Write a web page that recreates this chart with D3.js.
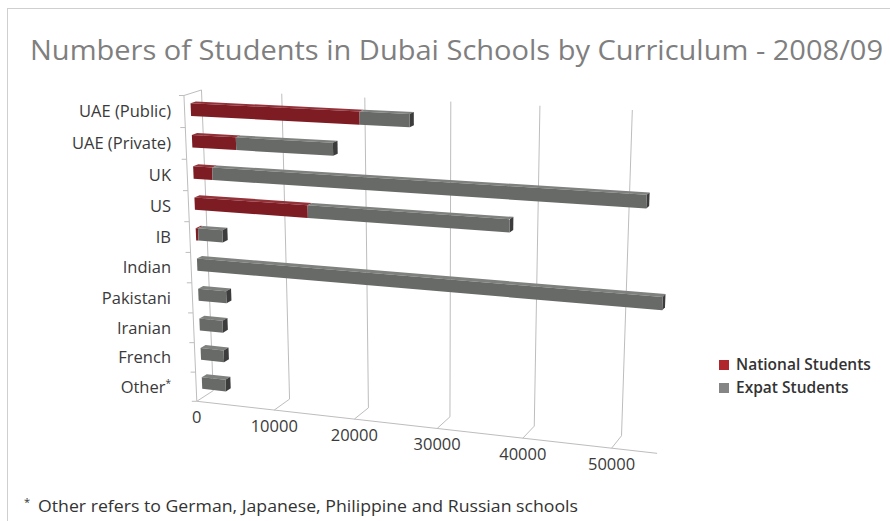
<!DOCTYPE html>
<html><head><meta charset="utf-8">
<script src="https://cdn.jsdelivr.net/npm/d3@7"></script>
<style>body{margin:0;background:#fff}svg{display:block}</style>
</head><body><svg id="c" width="890" height="521"></svg>
<script>
const title = "Numbers of Students in Dubai Schools by Curriculum - 2008/09";
const categories = ["UAE (Public)","UAE (Private)","UK","US","IB","Indian","Pakistani","Iranian","French","Other"];
const nationalStudents = [20500, 5500, 2400, 14100, 300, 0, 0, 0, 0, 0];
const expatStudents    = [5800, 11800, 50100, 23600, 3100, 54600, 3600, 3000, 3000, 3100];
const valueTicks = [0, 10000, 20000, 30000, 40000, 50000];
const axisMax = 55000;
const seriesNames = ["National Students", "Expat Students"];
const footnote = "Other refers to German, Japanese, Philippine and Russian schools";

// camera calibration of the 3D frame: [value, height(0 floor..1 top), depth(0 front..1 back), screenX, screenY]
const frameCalibration = [
 [0,0,0,197,402],[10000,0,0,275,410],[20000,0,0,355,419],[30000,0,0,437,429],[40000,0,0,523,439],[50000,0,0,611,448],[55000,0,0,657,452],
 [0,1,0,183,95],
 [0,0,1,213,389],[10000,0,1,287,398],[20000,0,1,370,408],[30000,0,1,450,418],[40000,0,1,535,427],[50000,0,1,621,436],
 [0,1,1,202,90],[10000,1,1,282,95],[20000,1,1,365,98],[30000,1,1,451,102],[40000,1,1,540,105],[50000,1,1,632,109]
];

const svg = d3.select("#c");
const xScale = d3.scaleLinear().domain([0, axisMax]).range([0, 1]);
const band = d3.scaleBand().domain(categories).range([0, 1]).paddingInner(0.6).paddingOuter(0.3);

function solveDLT(pts){
  const A=[], b=[];
  pts.forEach(([v,h,z,x,y])=>{ const X=xScale(v), Y=h, Z=z;
    A.push([X,Y,Z,1,0,0,0,0,-x*X,-x*Y,-x*Z]); b.push(x);
    A.push([0,0,0,0,X,Y,Z,1,-y*X,-y*Y,-y*Z]); b.push(y); });
  const n=11; const M=[...Array(n)].map(()=>new Array(n+1).fill(0));
  for(let r=0;r<A.length;r++) for(let i=0;i<n;i++){ for(let j=0;j<n;j++) M[i][j]+=A[r][i]*A[r][j]; M[i][n]+=A[r][i]*b[r]; }
  for(let i=0;i<n;i++){
    let p=i; for(let k=i+1;k<n;k++) if(Math.abs(M[k][i])>Math.abs(M[p][i])) p=k;
    [M[i],M[p]]=[M[p],M[i]];
    for(let k=0;k<n;k++){ if(k===i) continue; const f=M[k][i]/M[i][i]; for(let j=i;j<=n;j++) M[k][j]-=f*M[i][j]; }
  }
  return M.map((row,i)=>row[n]/row[i]);
}
const cam = solveDLT(frameCalibration);
function P(v,h,z){
  const X=xScale(v), Y=h, Z=z;
  const d = cam[8]*X + cam[9]*Y + cam[10]*Z + 1;
  return [(cam[0]*X+cam[1]*Y+cam[2]*Z+cam[3])/d, (cam[4]*X+cam[5]*Y+cam[6]*Z+cam[7])/d];
}
const line = d3.line();

// outer border
svg.append("rect").attr("x",7.5).attr("y",8.5).attr("width",900).attr("height",600)
  .attr("fill","none").attr("stroke","#cfcfcf");

// title
svg.append("text").attr("x",30).attr("y",60).text(title)
  .attr("font-family","'Open Sans', sans-serif").attr("font-size",27).attr("fill","#7f7f7f")
  .attr("textLength",853).attr("lengthAdjust","spacingAndGlyphs");

const frame = svg.append("g").attr("fill","none").attr("stroke","#bdbdbd").attr("stroke-width",1);
frame.append("path").attr("d", line([P(0,1,0),P(0,0,0),P(axisMax,0,0)]));
frame.append("path").attr("d", line([P(0,0,0),P(0,0,1),P(0,1,1),P(0,1,0)]));
valueTicks.filter(v=>v>0).forEach(v=>{
  frame.append("path").attr("d", line([P(v,0,0),P(v,0,1),P(v,1,1)]));
});
d3.range(categories.length+1).forEach(k=>{
  const h = 1 - k/categories.length; const p = P(0,h,0);
  frame.append("path").attr("d", line([[p[0]-5,p[1]],p]));
});

// bars
const z0 = 0.35, z1 = 0.65;
const styles = [
  {front:"#7d1c23", top:"#943239", cap:"#571418"},
  {front:"#676a67", top:"#7e817e", cap:"#3b3c3b"}
];
const bars = svg.append("g");
categories.forEach((c,i)=>{
  const h1 = 1 - band(c), h0 = h1 - band.bandwidth();
  const segs = [[0, nationalStudents[i], 0],[nationalStudents[i], nationalStudents[i]+expatStudents[i], 1]].filter(s=>s[1]>s[0]);
  segs.forEach((s,si)=>{
    const [a,b,k] = s; const st = styles[k];
    const g = bars.append("g");
    g.append("path").attr("d", line([P(a,h1,z0),P(b,h1,z0),P(b,h1,z1),P(a,h1,z1)])+"Z").attr("fill",st.top);
    if(si===segs.length-1)
      g.append("path").attr("d", line([P(b,h0,z0),P(b,h0,z1),P(b,h1,z1),P(b,h1,z0)])+"Z").attr("fill",st.cap);
    g.append("path").attr("d", line([P(a,h0,z0),P(b,h0,z0),P(b,h1,z0),P(a,h1,z0)])+"Z").attr("fill",st.front);
  });
});

// category labels
const lab = svg.append("g").attr("font-family","'Open Sans', sans-serif").attr("font-size",16.5).attr("fill","#3a3a3a");
categories.forEach((c,i)=>{
  const hc = 1 - band(c) - band.bandwidth()/2; const p = P(0,hc,0);
  const t = lab.append("text").attr("x",171).attr("y",p[1]).attr("dy","0.35em").attr("text-anchor","end").text(c);
  if(c==="Other") t.append("tspan").attr("font-size",10).attr("dy","-0.6em").text("*");
});
// value labels
const vlab = svg.append("g").attr("font-family","'Open Sans', sans-serif").attr("font-size",16.5).attr("fill","#3a3a3a");
valueTicks.forEach(v=>{
  const p = P(v,0,0);
  vlab.append("text").attr("x",p[0]).attr("y",p[1]+16).attr("dy","0.35em").attr("text-anchor","middle").text(d3.format("d")(v));
});

// legend
const leg = svg.append("g").attr("font-family","'Open Sans', sans-serif").attr("font-size",15.5).attr("font-weight",600).attr("fill","#333");
const legColors = ["#b0262d","#858585"];
seriesNames.forEach((n,i)=>{
  leg.append("rect").attr("x",719).attr("y",360+i*23).attr("width",10).attr("height",10).attr("fill",legColors[i]);
  leg.append("text").attr("x",736).attr("y",365+i*23).attr("dy","0.35em").text(n);
});

// footnote
const fn = svg.append("text").attr("x",24).attr("y",512).attr("font-family","'Open Sans', sans-serif").attr("font-size",17).attr("fill","#333");
fn.append("tspan").attr("font-size",11).attr("dy",-6).text("*");
fn.append("tspan").attr("x",38).attr("dy",6).attr("textLength",540).attr("lengthAdjust","spacingAndGlyphs").text(footnote);
</script></body></html>
